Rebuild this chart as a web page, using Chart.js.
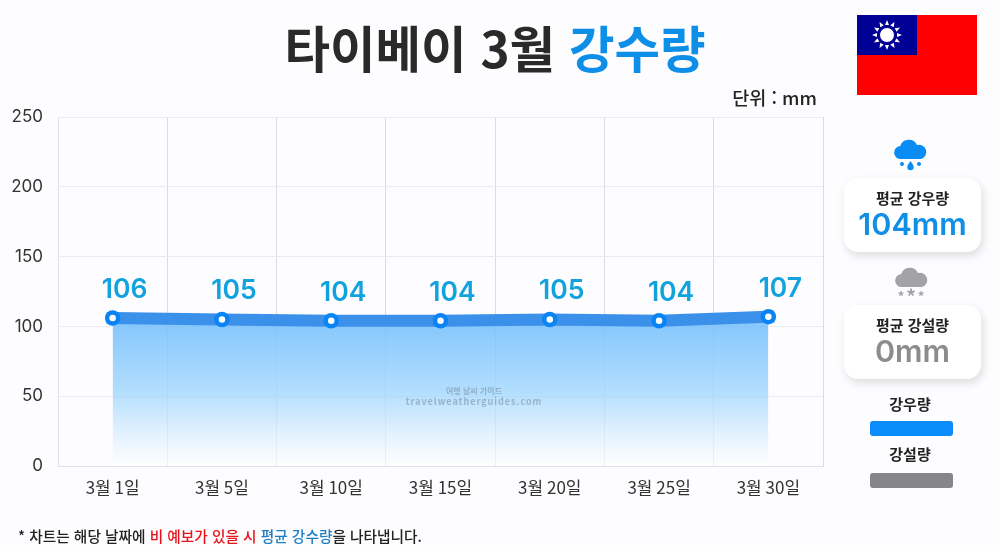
<!DOCTYPE html>
<html lang="ko">
<head>
<meta charset="utf-8">
<title>타이베이 3월 강수량</title>
<script src="https://cdn.jsdelivr.net/npm/chart.js@4"></script>
<style>
html, body { margin: 0; padding: 0; background: #fdfcfe; }
body { width: 1000px; height: 545px; position: relative; overflow: hidden; font-family: "Noto Sans CJK KR", "Noto Sans", sans-serif; color: #222; }
#rainChart { position: absolute; left: 0; top: 0; }
.abs { position: absolute; white-space: nowrap; }
.center { transform: translateX(-50%); text-align: center; }
.title { left: 495px; top: 12px; font-size: 49.5px; font-weight: 700; line-height: 70px; color: #2a2a2a; }
.title b { color: #0d8fe8; font-weight: 700; }
.unit { right: 183px; top: 85px; font-size: 18.5px; font-weight: 500; line-height: 25px; color: #222; }
.card { left: 844px; width: 137px; height: 74px; background: #fff; border-radius: 14px; box-shadow: 2px 4px 10px rgba(0,0,0,.13); text-align: center; }
.card .name { font-size: 15px; font-weight: 700; line-height: 20px; margin-top: 10px; color: #222; }
.card .val { font-family: Inter, "Noto Sans", sans-serif; font-size: 30.5px; font-weight: 600; line-height: 34px; margin-top: -1px; }
.swatch { left: 870px; width: 83px; height: 15px; border-radius: 3px; }
.legend { left: 910px; font-size: 15px; font-weight: 700; line-height: 20px; color: #222; }
.note { left: 18px; top: 525px; font-size: 14.7px; line-height: 22px; font-weight: 500; color: #222; }
.mark { left: 474px; top: 385px; font-size: 8px; line-height: 11px; font-weight: 700; color: rgba(90,100,120,.38); text-align: center; }
.mark div:last-child { font-size: 9px; letter-spacing: 1px; }
</style>
</head>
<body>
<canvas id="rainChart" width="1000" height="545"></canvas>

<div class="abs center title">타이베이 3월 <b>강수량</b></div>
<div class="abs unit">단위 : mm</div>
<div class="abs center mark"><div>여행 날씨 가이드</div><div>travelweatherguides.com</div></div>

<svg class="abs" style="left:857px;top:15px" width="120" height="80" viewBox="0 0 120 80">
  <rect width="120" height="80" fill="#fe0000"/>
  <rect width="60" height="40" fill="#000095"/>
  <g id="sun" fill="#fff"></g>
  <circle cx="30" cy="20" r="7.5" fill="#fff" stroke="#000095" stroke-width="1"/>
</svg>

<svg class="abs" style="left:893px;top:139px" width="36" height="32" viewBox="0 0 36 32">
  <path d="M8 20a6.500 6.500 0 0 1-.8-13A9 9 0 0 1 24 6a7 7 0 0 1 4 14z" fill="#0a8cf5"/>
  <circle cx="9" cy="25" r="2" fill="#0a8cf5"/><circle cx="26" cy="25" r="2" fill="#0a8cf5"/>
  <path d="M17.500 22c2 3 3.200 4.500 3.200 6a3.200 3.200 0 0 1-6.400 0c0-1.500 1.200-3 3.200-6z" fill="#0a8cf5"/>
</svg>
<div class="abs card" style="top:178px">
  <div class="name">평균 강우량</div>
  <div class="val" style="color:#0f8fe6">104mm</div>
</div>

<svg class="abs" style="left:894px;top:267px" width="36" height="36" viewBox="0 0 36 36">
  <path d="M8 20a6.500 6.500 0 0 1-.8-13A9 9 0 0 1 24 6a7 7 0 0 1 4 14z" fill="#a3a3a6"/>
  <text x="7" y="34" text-anchor="middle" font-size="13" font-weight="700" fill="#a3a3a6">*</text>
  <text x="17" y="37" text-anchor="middle" font-size="19" font-weight="700" fill="#a3a3a6">*</text>
  <text x="27" y="34" text-anchor="middle" font-size="13" font-weight="700" fill="#a3a3a6">*</text>
</svg>
<div class="abs card" style="top:305px">
  <div class="name">평균 강설량</div>
  <div class="val" style="color:#8c8c8e">0mm</div>
</div>

<div class="abs center legend" style="top:394px">강우량</div>
<div class="abs swatch" style="top:421px;background:#0a8cfb"></div>
<div class="abs center legend" style="top:444px">강설량</div>
<div class="abs swatch" style="top:473px;background:#85858a"></div>

<div class="abs note">* 차트는 해당 날짜에 <span style="color:#e8141c">비 예보가 있을 시</span> <span style="color:#1f7fc4">평균 강수량</span>을 나타냅니다.</div>

<script>
// chart data
const days = ['3월 1일', '3월 5일', '3월 10일', '3월 15일', '3월 20일', '3월 25일', '3월 30일'];
const rain = [106, 105, 104, 104, 105, 104, 107];
const yTicks = [0, 50, 100, 150, 200, 250];

// rays of the flag sun
const sun = document.getElementById('sun');
for (let i = 0; i < 12; i++) {
    const p = document.createElementNS('http://www.w3.org/2000/svg', 'path');
    p.setAttribute('d', 'M28 10 L30 5 L32 10 Z');
    p.setAttribute('transform', 'rotate(' + i * 30 + ' 30 20)');
    sun.appendChild(p);
}

// draws the number over each point
const valueLabels = {
    id: 'valueLabels',
    afterDatasetsDraw(chart) {
        const ctx = chart.ctx;
        const meta = chart.getDatasetMeta(0);
        ctx.save();
        ctx.font = '600 26.5px Inter, "Noto Sans", sans-serif';
        ctx.fillStyle = '#12a3df';
        ctx.textAlign = 'center';
        ctx.textBaseline = 'middle';
        meta.data.forEach((pt, i) => {
            ctx.fillText(rain[i], pt.x + 12, pt.y - 28);
        });
        ctx.restore();
    }
};

const ctx = document.getElementById('rainChart').getContext('2d');
new Chart(ctx, {
    type: 'line',
    data: {
        labels: days,
        datasets: [{
            label: '강우량',
            data: rain,
            borderColor: '#3b90ea',
            borderWidth: 12,
            borderCapStyle: 'square',
            tension: 0,
            fill: 'origin',
            backgroundColor: (c) => {
                const area = c.chart.chartArea;
                if (!area) return 'rgba(100,180,250,0.7)';
                const g = c.chart.ctx.createLinearGradient(0, c.chart.scales.y.getPixelForValue(105), 0, area.bottom);
                g.addColorStop(0, 'rgba(110,188,252,0.85)');
                g.addColorStop(0.5, 'rgba(160,214,253,0.8)');
                g.addColorStop(1, 'rgba(255,255,255,0.6)');
                return g;
            },
            pointRadius: 5.5,
            pointBorderWidth: 4.5,
            pointBackgroundColor: '#ffffff',
            pointBorderColor: '#0a84f5'
        }]
    },
    options: {
        responsive: false,
        animation: false,
        layout: { padding: { top: 117, right: 177, left: 0, bottom: 0 } },
        scales: {
            x: {
                offset: true,
                afterFit: (s) => { s.height = 79; },
                border: { color: '#e2e2e6' },
                grid: { offset: true, drawTicks: false, color: '#dcdce0' },
                ticks: { color: '#333', padding: 11, maxRotation: 0, font: { size: 17, family: '"Noto Sans CJK KR"' } }
            },
            y: {
                min: 0,
                max: 250,
                afterFit: (s) => { s.width = 58; },
                afterBuildTicks: (s) => { s.ticks = yTicks.map(v => ({ value: v })); },
                border: { color: '#e2e2e6' },
                grid: { drawTicks: false, color: '#ececf0' },
                ticks: { color: '#333', padding: 15, font: { size: 17, family: 'Inter, "Noto Sans", sans-serif' } }
            }
        },
        plugins: {
            legend: { display: false },
            title: { display: false },
            tooltip: { enabled: false }
        }
    },
    plugins: [valueLabels]
});
</script>
</body>
</html>
